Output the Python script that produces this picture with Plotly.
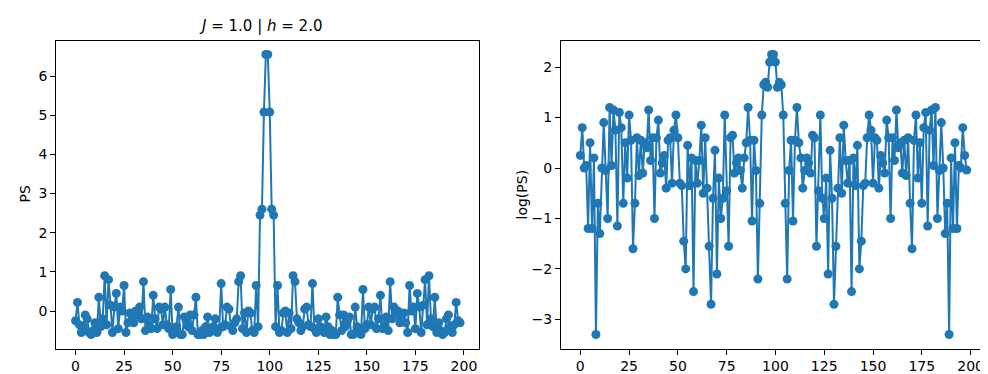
import plotly.graph_objects as go

W, H = 988, 374

# index of each sample
k_index = list(range(199))

# left panel: PS
ps_values = [
    -0.25, 0.22, -0.35, -0.55, -0.4, -0.1, -0.2, -0.55, -0.6, -0.5,
    -0.3, -0.55, 0.35, -0.4, -0.2, 0.9, -0.35, 0.8, 0.15, -0.55,
    0.1, 0.45, -0.45, 0.1, 0.0, 0.65, -0.55, -0.3, -0.05, -0.1,
    -0.3, 0.0, -0.1, 0.1, -0.2, 0.75, -0.5, -0.15, -0.35, -0.45,
    0.4, -0.2, -0.45, 0.1, 0.05, -0.35, 0.1, -0.35, -0.45, 0.55,
    -0.6, -0.55, -0.4, 0.1, -0.6, -0.6, -0.15, -0.25, -0.4, -0.1,
    -0.5, -0.1, 0.35, -0.6, -0.6, -0.5, -0.6, -0.4, -0.15, -0.55,
    -0.5, -0.4, -0.2, -0.55, -0.45, 0.7, -0.4, -0.35, 0.1, 0.05,
    -0.4, -0.5, -0.3, -0.2, 0.75, 0.9, -0.45, -0.05, -0.55, 0.0,
    -0.05, -0.5, -0.55, 0.65, -0.4, 2.45, 2.6, 5.08, 6.55,
    6.55, 5.08, 2.6, 2.45, -0.4, 0.65, -0.55, -0.5, -0.05, 0.0,
    -0.55, -0.05, -0.45, 0.9, 0.75, -0.2, -0.3, -0.5, -0.4, 0.05,
    0.1, -0.35, -0.4, 0.7, -0.45, -0.55, -0.2, -0.4, -0.5, -0.55,
    -0.15, -0.4, -0.6, -0.5, -0.6, -0.6, 0.35, -0.1, -0.5, -0.1,
    -0.4, -0.25, -0.15, -0.6, -0.6, 0.1, -0.4, -0.55, -0.6, 0.55,
    -0.45, -0.35, 0.1, -0.35, 0.05, 0.1, -0.45, -0.2, 0.4, -0.45,
    -0.35, -0.15, -0.5, 0.75, -0.2, 0.1, -0.1, 0.0, -0.3, -0.1,
    -0.05, -0.3, -0.55, 0.65, 0.0, 0.1, -0.45, 0.45, 0.1, -0.55,
    0.15, 0.8, -0.35, 0.9, -0.2, -0.4, 0.35, -0.55, -0.3, -0.5,
    -0.6, -0.55, -0.2, -0.1, -0.4, -0.55, -0.35, 0.22, -0.25, -0.3,
]

# right panel: log(PS)
log_ps_values = [
    0.25, 0.8, 0.0, 0.05, -1.2, 0.5, -1.2, 0.2, -3.3, -0.7,
    -1.3, 0.0, 0.9, -0.05, -1.0, 1.2, 0.05, 1.15, 0.75, -1.15,
    1.1, 0.8, -0.7, 0.5, -0.2, 1.05, 0.55, -1.6, -0.7, 0.6,
    -0.15, 0.55, -0.1, 0.5, 0.4, 1.15, 0.15, 0.6, -1.0, 0.6,
    0.95, -0.1, 0.1, 0.25, -0.4, 0.55, 0.6, -0.3, 0.75, 1.05,
    0.6, -0.3, -0.35, -1.45, -2.0, 0.45, -0.35, 0.2, -2.45, 0.15,
    -0.3, 0.15, 0.85, -0.5, 0.6, -0.4, -1.55, -2.7, -0.6, 0.35,
    -2.1, -0.2, -1.0, -0.6, 1.05, -0.45, -1.55, 0.6, 0.65, -0.1,
    0.1, 0.2, -0.05, -0.4, 0.2, 0.5, 1.2, 0.55, -1.05, 0.55,
    -0.05, -2.2, -0.7, 1.05, 1.65, 1.7, 1.6, 2.1, 2.25,
    2.25, 2.1, 1.6, 1.7, 1.65, 1.05, -0.7, -2.2, -0.05, 0.55,
    -1.05, 0.55, 1.2, 0.5, 0.2, -0.4, -0.05, 0.2, 0.1, -0.1,
    0.65, 0.6, -1.55, -0.45, 1.05, -0.6, -1.0, -0.2, -2.1, 0.35,
    -0.6, -2.7, -1.55, -0.4, 0.6, -0.5, 0.85, 0.15, -0.3, 0.15,
    -2.45, 0.2, -0.35, 0.45, -2.0, -1.45, -0.35, -0.3, 0.6, 1.05,
    0.75, -0.3, 0.6, 0.55, -0.4, 0.25, 0.1, -0.1, 0.95, 0.6,
    -1.0, 0.6, 0.15, 1.15, 0.4, 0.5, -0.1, 0.55, -0.15, 0.6,
    -0.7, -1.6, 0.55, 1.05, -0.2, 0.5, -0.7, 0.8, 1.1, -1.15,
    0.75, 1.15, 0.05, 1.2, -1.0, -0.05, 0.9, 0.0, -1.3, -0.7,
    -3.3, 0.2, -1.2, 0.5, -1.2, 0.05, 0.0, 0.8, 0.25, -0.04,
]

x_ticks = [0, 25, 50, 75, 100, 125, 150, 175, 200]
ps_ticks = [0, 1, 2, 3, 4, 5, 6]
log_ticks = [-3, -2, -1, 0, 1, 2]

title_text = "<i>J</i> = 1.0 | <i>h</i> = 2.0"
left_ylabel = "PS"
right_ylabel = "log(PS)"

BLUE = "#1f77b4"
FONT = "DejaVu Sans"


def padded(lo, hi, frac=0.05):
    span = hi - lo
    return [lo - frac * span, hi + frac * span]


fig = go.Figure()
fig.add_trace(go.Scatter(
    x=k_index[:len(ps_values)], y=ps_values, mode="lines+markers",
    line=dict(color=BLUE, width=2), marker=dict(color=BLUE, size=9),
    xaxis="x", yaxis="y", showlegend=False, hoverinfo="x+y"))
fig.add_trace(go.Scatter(
    x=k_index[:len(log_ps_values)], y=log_ps_values, mode="lines+markers",
    line=dict(color=BLUE, width=2), marker=dict(color=BLUE, size=9),
    xaxis="x2", yaxis="y2", showlegend=False, hoverinfo="x+y"))

y_bot = 1 - 340.5 / H
y_top = 1 - 32.5 / H

axis_common = dict(
    showgrid=False, zeroline=False, showline=True, mirror=True,
    linecolor="black", linewidth=1, ticks="outside", ticklen=5,
    tickwidth=1, tickcolor="black",
    tickfont=dict(family=FONT, size=14, color="black"),
)

xr = padded(0, len(k_index) - 1)
fig.update_layout(
    width=W, height=H,
    margin=dict(l=0, r=0, t=0, b=0),
    paper_bgcolor="white", plot_bgcolor="white",
    xaxis=dict(domain=[48.3 / W, 471.3 / W], range=xr, tickvals=x_ticks,
               anchor="y", **axis_common),
    yaxis=dict(domain=[y_bot, y_top], range=padded(min(ps_values), max(ps_values)),
               tickvals=ps_ticks, anchor="x", **axis_common),
    xaxis2=dict(domain=[553.0 / W, 978.0 / W], range=xr, tickvals=x_ticks,
                anchor="y2", **axis_common),
    yaxis2=dict(domain=[y_bot, y_top],
                range=padded(min(log_ps_values), max(log_ps_values)),
                tickvals=log_ticks, anchor="x2", **axis_common),
    annotations=[
        dict(text=title_text, xref="paper", yref="paper",
             x=252 / W, y=1 - 18.5 / H, xanchor="center",
             yanchor="middle", showarrow=False,
             font=dict(family=FONT, size=15, color="black")),
        dict(text=left_ylabel, xref="paper", yref="paper", x=16 / W,
             y=(y_bot + y_top) / 2, xanchor="center", yanchor="middle",
             textangle=-90, showarrow=False,
             font=dict(family=FONT, size=14, color="black")),
        dict(text=right_ylabel, xref="paper", yref="paper", x=513 / W,
             y=(y_bot + y_top) / 2, xanchor="center", yanchor="middle",
             textangle=-90, showarrow=False,
             font=dict(family=FONT, size=14, color="black")),
    ],
)

fig.write_html("out.html")
